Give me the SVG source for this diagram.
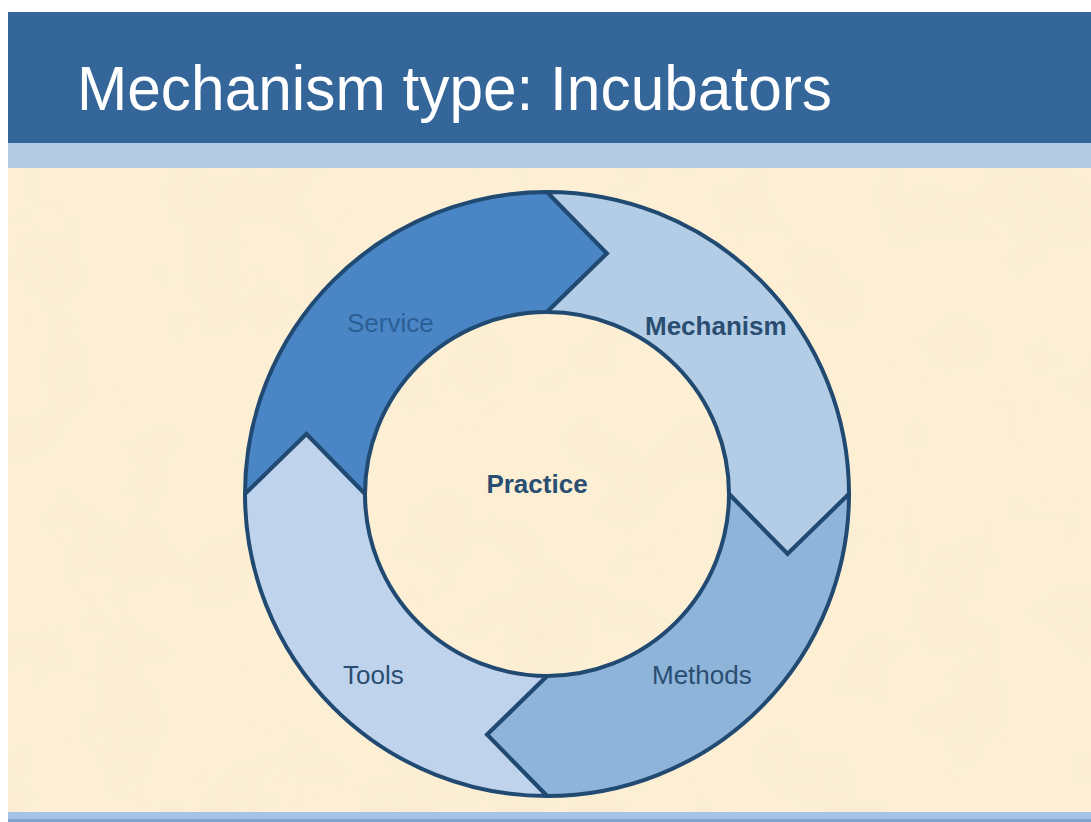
<svg xmlns="http://www.w3.org/2000/svg" width="1091" height="822" viewBox="0 0 1091 822">
  <style>
    .seg { stroke: #214a72; stroke-width: 4; stroke-linejoin: miter; stroke-miterlimit: 10; }
    .lbl { font-family: "Liberation Sans", Arial, sans-serif; font-size: 26px; fill: #2a4d72; }
    .b { font-weight: bold; }
  </style>
  <defs>
    <filter id="paper" x="0" y="0" width="100%" height="100%">
      <feTurbulence type="fractalNoise" baseFrequency="0.012" numOctaves="3" seed="7" result="n"/>
      <feColorMatrix in="n" type="matrix" values="0 0 0 0 0.93  0 0 0 0 0.82  0 0 0 0 0.62  0 0 0 1.6 -0.75" result="c"/>
      <feComposite in="c" in2="SourceGraphic" operator="in"/>
    </filter>
  </defs>

  <g id="background">
    <rect x="0" y="0" width="1091" height="822" fill="#ffffff"/>
    <rect x="8" y="168" width="1083" height="644" fill="#fcefd4"/>
    <rect x="8" y="168" width="1083" height="644" fill="#fcefd4" filter="url(#paper)" opacity="0.6"/>
    <rect x="8" y="12" width="1083" height="131" fill="#35669a"/>
    <rect x="8" y="143" width="1083" height="25" fill="#b3cce4"/>
    <rect x="8" y="812" width="1083" height="10" fill="#a6c4e6"/>
    <rect x="8" y="819" width="1083" height="3" fill="#7fa3cc"/>
  </g>

  <g id="title">
    <text x="77" y="110" font-family="'Liberation Sans', Arial, sans-serif" font-size="63" fill="#ffffff" textLength="755" lengthAdjust="spacingAndGlyphs">Mechanism type: Incubators</text>
  </g>

  <g id="service">
    <path class="seg" fill="#4a86c6" d="M245,494 A302,302 0 0 1 547,192 L607,253.4 L547,312 A182,182 0 0 0 365,494 L306.4,434 Z"/>
    <text class="lbl" x="347" y="332" style="fill:#2c5e96">Service</text>
  </g>

  <g id="mechanism">
    <path class="seg" fill="#b4cde6" d="M547,192 A302,302 0 0 1 849,494 L787.6,554 L729,494 A182,182 0 0 0 547,312 L607,253.4 Z"/>
    <text class="lbl b" x="645" y="335">Mechanism</text>
  </g>

  <g id="methods">
    <path class="seg" fill="#8fb4da" d="M849,494 A302,302 0 0 1 547,796 L487,734.6 L547,676 A182,182 0 0 0 729,494 L787.6,554 Z"/>
    <text class="lbl" x="652" y="684">Methods</text>
  </g>

  <g id="tools">
    <path class="seg" fill="#bfd3ec" d="M547,796 A302,302 0 0 1 245,494 L306.4,434 L365,494 A182,182 0 0 0 547,676 L487,734.6 Z"/>
    <text class="lbl" x="343" y="684">Tools</text>
  </g>

  <g id="practice">
    <text class="lbl b" x="537" y="493" text-anchor="middle">Practice</text>
  </g>

  <g id="connectors"></g>
</svg>
